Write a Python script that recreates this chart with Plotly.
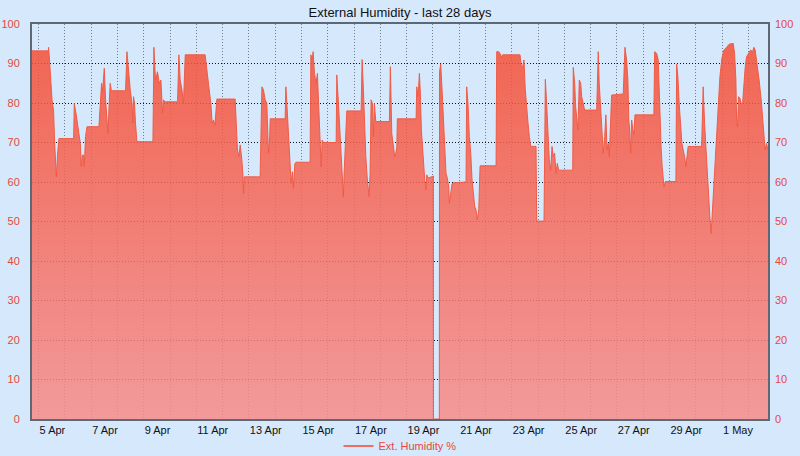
import pandas as pd
import plotly.graph_objects as go

# ---- data ----
start_time = "2024-04-04 18:00"
end_time = "2024-05-02 18:00"

# hours since start_time
hours = [
    0, 14.9, 15.1, 15.5, 18.3, 19.7, 20.6, 21.9, 22.2, 23.4, 24.6,
    38.0, 38.6, 40.4, 42.5, 44.1, 45.0, 45.9, 47.1, 47.7, 48.9, 50.2,
    61.1, 62.3, 63.5, 64.4, 66.0, 67.2, 68.4, 69.4, 70.3, 71.4, 72.4,
    85.4, 86.7, 88.1, 89.7, 91.3, 92.2, 92.7, 93.6, 94.5, 95.8,
    110.4, 111.3, 112.8, 114.6, 116.2, 117.7, 119.2, 120.1, 121.2,
    132.9, 134.1, 135.3, 136.9, 138.3, 139.9,
    158.1, 161.1, 163.3, 164.5, 165.7, 167.0, 168.8,
    185.5, 187.6, 188.9, 190.1, 191.6, 192.5, 193.1, 193.7,
    208.3, 209.9, 211.3, 212.9, 214.4, 215.9, 216.8, 217.5,
    231.1, 231.8, 232.7, 233.6, 234.5, 235.7, 236.6, 237.8, 238.7, 240.0, 241.2,
    253.9, 254.6, 255.8, 256.7, 257.9, 259.4, 260.6, 261.9, 263.1, 264.0, 264.9, 266.1,
    277.7, 278.3, 279.8, 281.3, 282.9, 284.3, 285.0, 286.2, 287.4,
    300.5, 301.4, 302.6, 303.5, 304.8, 306.2, 307.8, 308.7, 309.6, 310.8, 311.7, 312.6, 313.9,
    326.3, 327.2, 328.5, 330.0, 331.2, 332.2, 333.1, 333.6,
    350.7, 351.3, 352.5, 353.7, 354.6, 355.5, 356.8, 357.7, 358.6, 359.8, 360.4, 361.9, 366.5,
    366.6, 371.9,
    372.1, 373.2, 374.4, 375.6, 376.9, 378.0, 379.2, 380.5, 381.1, 382.3, 383.5, 384.7,
    396.3, 396.9, 398.1, 399.3, 400.6, 401.8, 403.0, 404.2, 405.4, 406.6, 407.9, 409.1,
    423.7, 424.3, 426.1, 428.0, 429.1, 429.8,
    445.6, 446.8, 448.0, 449.2, 450.4, 451.7, 452.9, 454.1, 455.3,
    460.2, 460.8, 467.5, 468.7, 469.9, 471.1, 472.3, 473.6, 474.8, 476.0, 477.2, 478.4, 479.6, 480.9,
    493.7, 494.2, 495.5, 496.4, 497.3, 498.5, 499.7, 501.0, 501.9, 503.3, 504.6,
    515.6, 517.0, 517.9, 519.2, 520.4, 521.6, 522.9, 524.0, 525.0, 526.1, 527.1, 528.0, 529.2,
    539.8, 541.4, 542.9, 544.1, 544.9, 545.7, 546.6, 547.5, 548.7, 549.6, 550.5,
    567.8, 568.5, 570.3, 571.8, 572.7, 573.6, 574.5, 575.4, 576.3, 577.0, 578.2,
    587.9, 588.6, 589.7, 590.9, 592.2, 593.4, 594.6, 595.9, 597.0, 598.2, 599.1,
    611.4, 612.8, 614.1, 615.3, 616.5, 617.8, 618.9, 620.1, 620.8, 622.0, 623.2, 624.4,
    625.6, 626.9, 628.1, 629.9, 631.7, 634.2, 636.6, 640.2, 641.5, 642.7, 643.3, 644.2,
    645.1, 646.3, 647.5, 648.8, 650.0, 651.2, 652.4, 654.3, 656.1, 657.9, 659.1, 660.3,
    662.1, 663.9, 665.8, 667.0, 668.2, 669.4, 670.7, 672.0,
]

humidity = [
    93.2, 93.2, 94.1, 93.0, 80.8, 78.0, 70.6, 65.1, 61.3, 67.3, 71.0,
    71.0, 79.9, 77.0, 73.0, 69.8, 63.9, 66.8, 66.8, 63.9, 71.5, 74.0,
    74.0, 80.8, 85.0, 83.0, 88.8, 80.8, 75.7, 72.3, 79.0, 85.0, 83.1,
    83.1, 93.0, 87.5, 83.4, 79.9, 74.9, 81.6, 79.9, 74.9, 70.2,
    70.2, 94.1, 85.8, 87.9, 85.0, 85.8, 77.4, 80.8, 80.3,
    80.3, 92.2, 85.8, 83.4, 79.9, 92.2,
    92.2, 85.0, 79.9, 74.9, 75.7, 74.4, 81.0,
    81.0, 68.1, 66.4, 69.4, 65.6, 62.2, 57.1, 61.3,
    61.3, 84.1, 83.4, 80.8, 79.9, 67.3, 69.8, 76.0,
    76.0, 84.1, 79.9, 74.9, 68.9, 62.2, 59.7, 62.6, 58.4, 64.7, 65.0,
    65.0, 92.2, 90.9, 93.0, 87.5, 85.0, 87.5, 79.9, 71.5, 63.9, 70.6, 70.0,
    70.0, 87.1, 79.9, 71.5, 64.7, 56.3, 62.2, 71.5, 78.0,
    78.0, 91.0, 83.4, 74.9, 66.4, 60.5, 56.3, 62.2, 80.8, 79.9, 71.5, 79.9, 75.3,
    75.3, 89.2, 72.3, 68.9, 66.4, 67.3, 68.9, 76.0,
    76.0, 84.1, 81.6, 87.5, 82.5, 73.2, 68.1, 63.0, 60.5, 58.0, 61.8, 61.0, 61.5,
    0, 0,
    88.0, 89.9, 83.4, 74.9, 68.1, 62.2, 61.0, 58.8, 54.6, 58.0, 59.5, 59.8,
    60.0, 84.1, 79.9, 71.5, 67.3, 60.5, 56.3, 53.8, 53.0, 50.4, 53.0, 64.1,
    64.1, 93.0, 93.0, 92.2, 91.3, 92.2,
    92.2, 89.2, 89.2, 90.9, 83.4, 77.4, 74.9, 71.5, 69.0,
    69.0, 50.1, 50.1, 86.0, 79.9, 73.2, 65.6, 63.0, 69.0, 66.4, 67.3, 62.2, 64.7, 63.0,
    63.0, 89.0, 85.0, 79.0, 75.7, 73.2, 85.8, 85.0, 81.6, 79.9, 78.2,
    78.2, 93.0, 85.0, 79.0, 74.0, 67.3, 71.5, 77.0, 68.1, 69.8, 66.4, 71.5, 82.0,
    82.3, 94.1, 90.9, 85.8, 75.7, 73.2, 67.3, 75.7, 73.2, 72.0, 77.0,
    77.0, 93.0, 92.6, 90.9, 83.4, 72.3, 68.1, 63.9, 61.3, 58.8, 60.1,
    60.1, 89.9, 86.7, 79.9, 73.2, 69.8, 68.1, 66.4, 63.9, 68.1, 69.0,
    69.0, 84.1, 74.9, 68.1, 62.2, 57.1, 51.2, 47.0, 50.4, 58.0, 62.2, 69.0,
    74.9, 80.8, 86.7, 91.3, 93.4, 94.1, 94.9, 95.1, 92.6, 85.8, 75.7, 74.0,
    81.6, 81.2, 79.9, 79.9, 85.0, 89.2, 91.7, 92.6, 93.4, 93.0, 94.1, 93.4,
    90.0, 85.8, 80.8, 75.7, 72.3, 68.1, 69.8, 68.0,
]

series_name = "Ext. Humidity %"
title_text = "External Humidity - last 28 days"

# ---- build ----
t0 = pd.Timestamp(start_time)
times = [t0 + pd.Timedelta(hours=h) for h in hours]

BG = "#d6e8fc"
RED_TXT = "#e5483a"
AXIS_LINE = "#5d6874"
FONT = "Liberation Sans, Arial, sans-serif"
DOT = "1px,2px"

fig = go.Figure()
fig.add_trace(go.Scatter(
    x=times, y=humidity, mode="lines",
    line=dict(color="rgba(238,88,66,0.95)", width=1),
    fill="tozeroy",
    fillgradient=dict(
        type="vertical", start=0, stop=95,
        colorscale=[[0, "rgba(247,140,138,0.85)"], [1, "rgba(246,78,52,0.85)"]],
    ),
    showlegend=False, hoverinfo="x+y",
))
# legend entry (line only)
fig.add_trace(go.Scatter(
    x=[None], y=[None], mode="lines", name=series_name,
    line=dict(color="#ec6f62", width=2), showlegend=True,
))
# right axis carrier
fig.add_trace(go.Scatter(
    x=[times[0]], y=[humidity[0]], yaxis="y2", mode="markers",
    marker=dict(opacity=0), showlegend=False, hoverinfo="skip",
))

fig.update_layout(
    width=800, height=456,
    margin=dict(l=32, r=32, t=24, b=37, autoexpand=False),
    paper_bgcolor=BG, plot_bgcolor=BG,
    font=dict(family=FONT, size=11, color="#222"),
    title=dict(text=title_text, x=0.5, xanchor="center",
               y=1 - 12 / 456, yref="container", yanchor="middle",
               font=dict(size=13, color="#111", family=FONT)),
    showlegend=True,
    legend=dict(orientation="h", x=0.5, xanchor="center",
                yref="container", y=(456 - 446) / 456, yanchor="middle",
                font=dict(color=RED_TXT, size=11, family=FONT),
                bgcolor="rgba(0,0,0,0)", itemwidth=30),
    xaxis=dict(
        type="date", range=[start_time, end_time], automargin=False,
        tick0="2024-04-05", dtick=2 * 86400000, tickformat="%-d %b",
        ticklabelposition="outside right", ticks="",
        tickfont=dict(color="#111", size=11),
        showgrid=True, gridcolor="#6f7c8a", griddash=DOT, gridwidth=1,
        minor=dict(dtick=86400000, tick0="2024-04-05", showgrid=True,
                   gridcolor="#6f7c8a", griddash=DOT, gridwidth=1),
        showline=True, linecolor=AXIS_LINE, linewidth=2, mirror=True,
        zeroline=False, fixedrange=True,
    ),
    yaxis=dict(
        range=[0, 100], dtick=10, ticks="", automargin=False,
        tickfont=dict(color=RED_TXT, size=11), ticklabelstandoff=8,
        showgrid=True, gridcolor="#111111", griddash=DOT, gridwidth=1,
        showline=True, linecolor=AXIS_LINE, linewidth=2, mirror=True,
        zeroline=False,
    ),
    yaxis2=dict(
        range=[0, 100], dtick=10, ticks="", overlaying="y", side="right",
        automargin=False,
        tickfont=dict(color=RED_TXT, size=11), ticklabelstandoff=6,
        showgrid=False, showline=False, zeroline=False,
    ),
)

fig.write_html("out.html")
